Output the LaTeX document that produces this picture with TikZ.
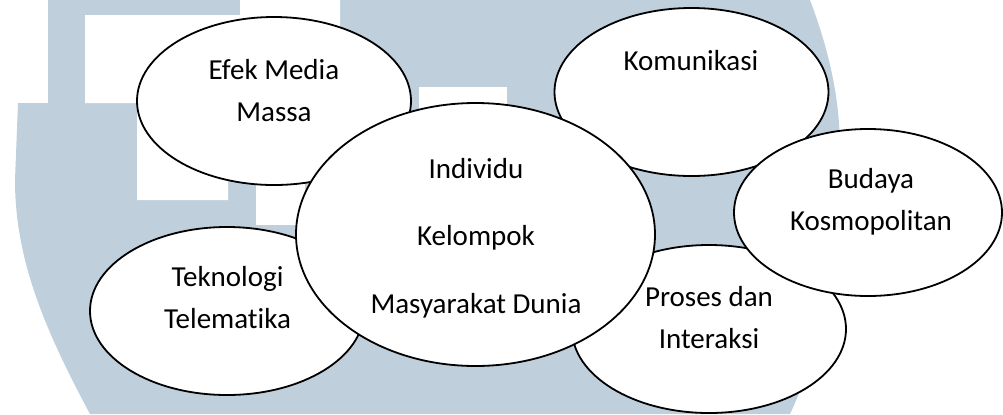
\documentclass[tikz,border=0pt]{standalone}
\usepackage{fontspec}
\setmainfont{Carlito}[Ligatures={NoCommon}]
\usetikzlibrary{shapes.geometric}
\definecolor{watermark}{RGB}{191,207,220}
\tikzset{
  bubble/.style={ellipse, draw, line width=0.9pt, fill=white, inner sep=0pt,
    minimum width=137pt, minimum height=84pt},
  lbl/.style={font=\fontsize{14.5}{21}\selectfont, align=center, anchor=base}
}
\begin{document}
\begin{tikzpicture}[x=0.5pt, y=-0.5pt]
        \useasboundingbox (0,0) rectangle (1003,414);
        % watermark behind the diagram
        \fill [watermark] (48,0) -- (810,0) .. controls (825,40) and (840,90) .. (840,150)
              .. controls (840,260) and (820,350) .. (790,414) -- (90,414)
              .. controls (45,330) and (15,260) .. (15,180) -- (18,103) -- (48,103) -- cycle;
        \fill [white] (85,15) -- (240,15) -- (240,0) -- (340,0) -- (340,60) -- (228,60)
              -- (228,200) -- (137,200) -- (137,103) -- (85,103) -- cycle;
        \fill [white] (256,120) rectangle (305,225);
        \fill [white] (419,87) rectangle (507,130);
        % ellipses
        \node [bubble] (efek) at (274,101) {};
        \node [bubble] (tekno) at (227,311) {};
        \node [bubble] (komu) at (691.5,92) {};
        \node [bubble] (proses) at (709,329) {};
        \node [bubble, minimum width=134pt, minimum height=83.5pt] (budaya) at (868,212.5) {};
        \node [bubble, minimum width=179.5pt, minimum height=131.5pt] (indiv) at (475.5,234.5) {};
        % texts (base = last line)
        \node [lbl] (efekT) at (274,121) {Efek Media\\Massa};
        \node [lbl] (teknoT) at (227.5,328) {Teknologi\\Telematika};
        \node [lbl] (komuT) at (691,70) {Komunikasi};
        \node [lbl] (budayaT) at (871,230) {Budaya\\Kosmopolitan};
        \node [lbl] (prosesT) at (709,348) {Proses dan\\Interaksi};
        \node [lbl, font=\fontsize{14.5}{33.75}\selectfont] (indivT) at (476,313)
              {Individu\\Kelompok\\Masyarakat Dunia};
\end{tikzpicture}
\end{document}
